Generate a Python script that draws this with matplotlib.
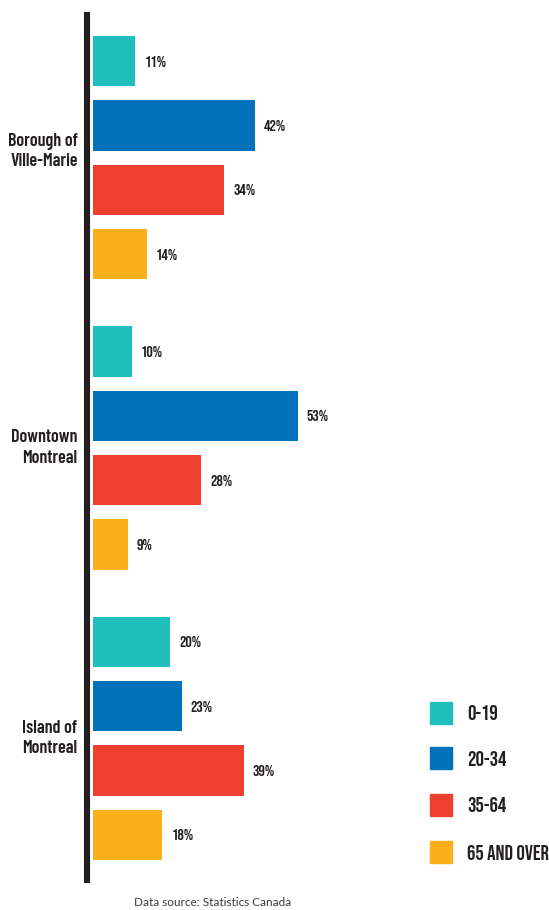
import numpy as np
import matplotlib.pyplot as plt
from matplotlib.patches import Rectangle

# Age distribution by area (percent of population)
areas = ["Borough of\nVille-Marie", "Downtown\nMontreal", "Island of\nMontreal"]
age_groups = ["0-19", "20-34", "35-64", "65 AND OVER"]
age_0_19 = [11, 10, 20]
age_20_34 = [42, 53, 23]
age_35_64 = [34, 28, 39]
age_65_over = [14, 9, 18]

colors = ["#20BFBD", "#0071BB", "#EF3F31", "#FBAF1B"]
dark = "#231F20"
bebas = ["Bebas Neue", "DejaVu Sans"]
cond = ["Barlow Condensed", "DejaVu Sans"]

series = [age_0_19, age_20_34, age_35_64, age_65_over]

W, H = 549, 910
fig = plt.figure(figsize=(W / 100, H / 100), dpi=100)

# axes spans from the dark baseline down to the bottom of the last group
left, right = 93, 549
top, bottom = 15, 880
ax = fig.add_axes([left / W, 1 - bottom / H, (right - left) / W, (bottom - top) / H])

group_stride = 4.51
bar_h = 0.78
label_shift = [-0.1, 0.0, 0.0]
for g in range(len(areas)):
    for i, vals in enumerate(series):
        y = g * group_stride + i
        ax.barh(y, vals[g], height=bar_h, color=colors[i], left=0)
        ax.text(vals[g] + 2.3, y, f"{vals[g]}%", va="center", ha="left",
                fontsize=11.5, family=bebas, color=dark)
    ax.text(-4.0, g * group_stride + 1.5 + label_shift[g], areas[g],
            ha="right", va="center", fontsize=13, fontweight="semibold",
            family=cond, color=dark, linespacing=1.25)

ax.set_xlim(0, (right - left) / 3.86)
ax.set_ylim(2 * group_stride + 3 + (bottom - 835) / 64.3, -(61 - top) / 64.3)
for s in ["top", "right", "bottom"]:
    ax.spines[s].set_visible(False)
ax.spines["left"].set_position(("outward", 4))
ax.spines["left"].set_linewidth(4.4)
ax.spines["left"].set_color(dark)
ax.set_xticks([])
ax.set_yticks([])

# legend drawn in figure pixels
leg_y = [713, 758, 805, 852]
for c, lab, ly in zip(colors, age_groups, leg_y):
    fig.patches.append(Rectangle((430 / W, 1 - (ly + 11) / H), 22 / W, 22 / H,
                                 transform=fig.transFigure, color=c))
    fig.text(467 / W, 1 - ly / H, lab, ha="left", va="center", fontsize=15,
             family=bebas, color=dark)

fig.text(213 / W, 1 - 903 / H, "Data source: Statistics Canada", ha="center",
         va="center", fontsize=8.5, family=["Lato", "DejaVu Sans"],
         color="#3a3a3a")

fig.savefig("out.png", dpi=100)
